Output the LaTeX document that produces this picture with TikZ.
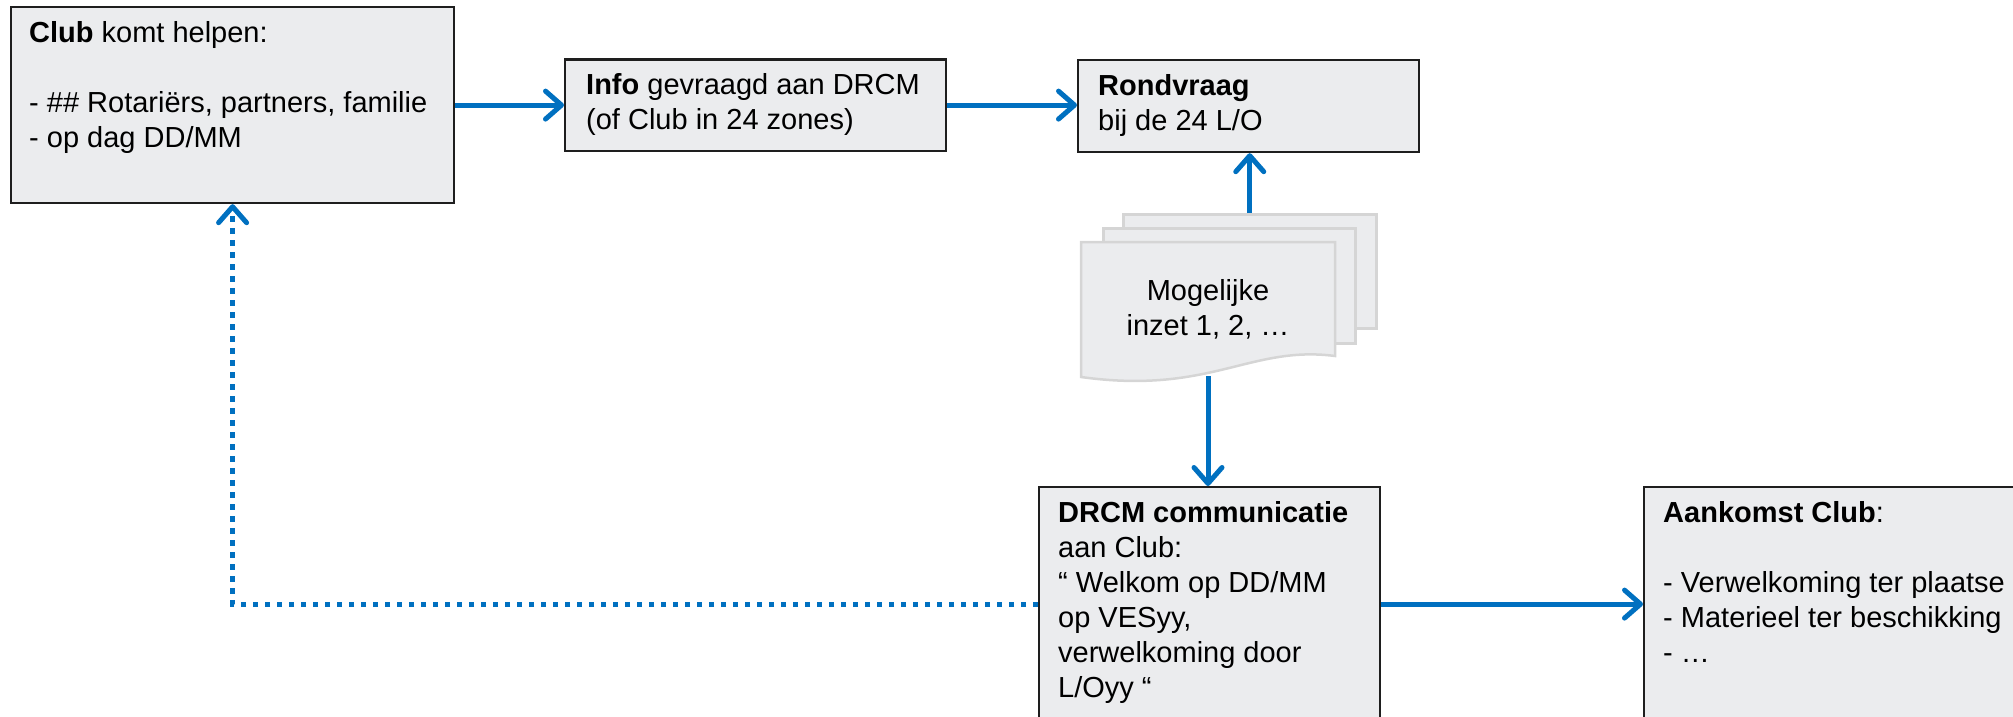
\documentclass[tikz,border=0pt]{standalone}
\usepackage{fontspec}
\setmainfont{Liberation Sans}
\usetikzlibrary{arrows.meta}
\definecolor{boxfill}{HTML}{EBECEE}
\definecolor{boxline}{HTML}{1E1E1E}
\definecolor{docline}{HTML}{D5D5D5}
\definecolor{linkblue}{HTML}{0070C0}
\begin{document}
\begin{tikzpicture}[x=1pt,y=-1pt]
\tikzstyle{box} = [rectangle, draw=boxline, line width=2.2pt, fill=boxfill,
anchor=north west, inner sep=0pt]
\tikzstyle{txt} = [anchor=north west, inner sep=0pt, align=left,
font=\fontsize{29}{35}\selectfont, execute at begin node=\strut]
\tikzstyle{doc} = [rectangle, draw=docline, line width=2.5pt, fill=boxfill,
anchor=north west, inner sep=0pt]
\tikzstyle{link} = [draw=linkblue, line width=5pt, -{Straight Barb[length=16pt,width=28pt,round]}]
\tikzstyle{dotlink} = [link, dash pattern=on 5.5pt off 6.5pt]
\useasboundingbox (0,0) rectangle (2013,717);
\clip (0,0) rectangle (2013,717);
% top row
\node [box, minimum width=443pt, minimum height=196pt] (club) at (10,6) {};
\node [txt] (clubtxt) at ([shift={(19,15.5)}]club.north west) {\textbf{Club} komt helpen:\\[35pt]
- \#\# Rotariërs, partners, familie\\
- op dag DD/MM};
\node [box, minimum width=381pt, minimum height=91pt] (info) at (564,58.5) {};
\node [txt] (infotxt) at ([shift={(22,15)}]info.north west) {\textbf{Info} gevraagd aan DRCM\\
(of Club in 24 zones)};
\node [box, minimum width=341pt, minimum height=92pt] (rond) at (1077,59) {};
\node [txt] (rondtxt) at ([shift={(21,15)}]rond.north west) {\textbf{Rondvraag}\\
bij de 24 L/O};
% document stack
\node [doc, minimum width=253pt, minimum height=114pt] (docc) at (1122,213) {};
\node [doc, minimum width=252pt, minimum height=115pt] (docb) at (1102,227) {};
\draw [draw=docline, fill=boxfill, line width=2.5pt] (1081,242) -- (1335,242) -- (1335,356)
.. controls (1250,345) and (1210,395) .. (1081,377) -- cycle;
\coordinate (docfoot) at (1208,376);
\node [txt, anchor=north, align=center] (doca) at (1208,279.5) {Mogelijke\\
inzet 1, 2, …};
% bottom row
\node [box, minimum width=341pt, minimum height=234pt] (drcm) at (1038,486) {};
\node [txt] (drcmtxt) at ([shift={(20,15.5)}]drcm.north west) {\textbf{DRCM communicatie}\\
aan Club:\\
“ Welkom op DD/MM\\
op VESyy,\\
verwelkoming door\\
L/Oyy “};
\node [box, minimum width=420pt, minimum height=234pt] (aank) at (1643,486) {};
\node [txt] (aanktxt) at ([shift={(20,15.5)}]aank.north west) {\textbf{Aankomst Club}:\\[35pt]
- Verwelkoming ter plaatse\\
- Materieel ter beschikking\\
- …};
% connectors
\path [link] (club.east) -- (info.west);
\path [link] (info.east) -- (info.east -| rond.west);
\path [link] (docc.north) -- (docc.north |- rond.south);
\path [link] (docfoot) -- (docfoot |- drcm.north);
\path [link] (drcm.east) -- (drcm.east -| aank.west);
\path [dotlink] (drcm.west) -| (club.south);
\end{tikzpicture}
\end{document}
